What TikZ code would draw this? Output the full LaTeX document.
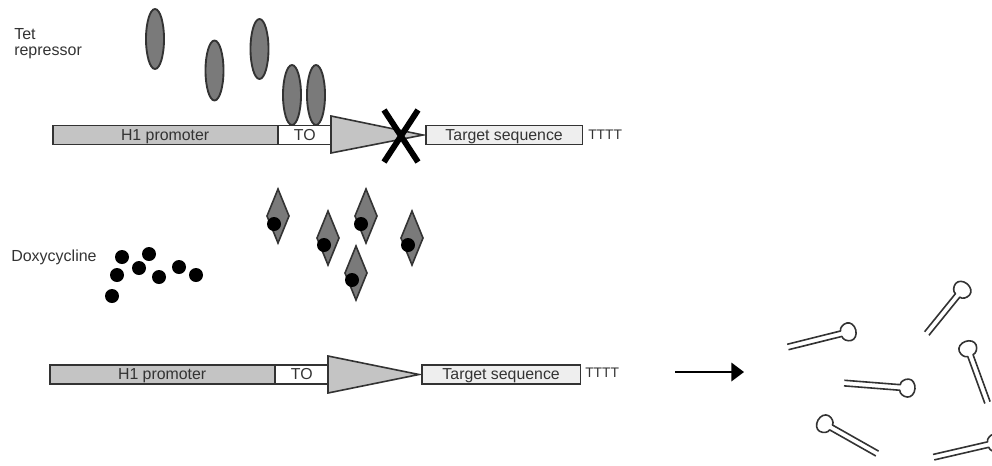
\documentclass[tikz,border=0pt]{standalone}
\usepackage{fontspec}
\setmainfont{Liberation Sans}
\definecolor{ink}{HTML}{333333}
\definecolor{promoter}{HTML}{C4C4C4}
\definecolor{target}{HTML}{EEEEEE}
\definecolor{protein}{HTML}{7A7A7A}
\tikzset{
  segment/.style={draw=ink,line width=1.2pt,minimum height=14pt,inner sep=0pt,anchor=west,text=ink,text height=8.6pt,text depth=0.5pt,font=\fontsize{11.9}{13}\selectfont},
  repressor/.style={ellipse,draw=ink,line width=1.4pt,fill=protein,minimum width=13.5pt,minimum height=45pt,inner sep=0pt},
  bound/.style={diamond,draw=ink,line width=1.2pt,fill=protein,minimum width=17pt,minimum height=41pt,inner sep=0pt},
  drug/.style={circle,fill=black,minimum size=10.5pt,inner sep=0pt},
  caption/.style={text=ink,font=\fontsize{12}{13}\selectfont,anchor=west,inner sep=0pt},
  tail/.style={text=ink,font=\fontsize{10.4}{12}\selectfont,anchor=west,inner sep=0pt},
  promoterhead/.style={draw=ink,line width=1.2pt,fill=promoter,line join=miter},
}
% A short RNA hairpin: loop at the origin, stem running along +x
\newcommand{\hairpin}[4]{%
  \draw[shift={(#1,#2)},rotate=#3,draw=ink,line width=1.2pt,line join=round]
    (#4,2.8) -- (7,2.8)
    .. controls (7,6) and (3,9) .. (-1,9)
    .. controls (-5,9) and (-8,5) .. (-8,0)
    .. controls (-8,-5) and (-5,-9) .. (-1,-9)
    .. controls (3,-9) and (7,-6) .. (7,-2.8)
    -- (#4,-2.8);
}
\usetikzlibrary{shapes.geometric,arrows.meta}
\begin{document}
\begin{tikzpicture}[x=0.75pt,y=-0.75pt]
\useasboundingbox (0,0) rectangle (992,465);

% Free and operator-bound repressor
\node[repressor] (r1) at (155,39) {};
\node[repressor] (r2) at (214.5,70.5) {};
\node[repressor] (r3) at (259.5,49) {};
\node[repressor] (r4) at (292,95) {};
\node[repressor] (r5) at (316,95) {};

% Silenced cassette
\node[segment,fill=promoter,minimum width=168.5pt] (pa) at (52,135) {H1 promoter};
\node[segment,fill=white,minimum width=40.5pt] (toa) at (277,135) {TO};
\node[segment,fill=target,minimum width=117.5pt] (ta) at (425,135) {Target sequence};
\node[tail] (ua) at (588,135) {TTTT};
\draw[promoterhead] (331,116) -- (423,135) -- (331,153) -- cycle;
\draw[line width=4.4pt,black] (384,110) -- (418,162) (418,110) -- (384,162);

% Doxycycline-bound repressor
\node[bound] (d1) at (278,216) {};
\node[bound] (d2) at (328,238) {};
\node[bound] (d3) at (366,216) {};
\node[bound] (d4) at (412,238) {};
\node[bound] (d5) at (356,273) {};
\node[drug] at (274,224) {};
\node[drug] at (324,245) {};
\node[drug] at (361,224) {};
\node[drug] at (408,245) {};
\node[drug] at (352,280) {};

% Free doxycycline
\node[drug] at (122,257) {};
\node[drug] at (149,254) {};
\node[drug] at (117,275) {};
\node[drug] at (139,268) {};
\node[drug] at (159,277) {};
\node[drug] at (179,267) {};
\node[drug] at (196,275) {};
\node[drug] at (112,296) {};

% Labels
\node[caption] (tet) at (14,34) {Tet};
\node[caption] (rep) at (14,53) {repressor};
\node[caption] (dox) at (11,257) {Doxycycline};

% Active cassette
\node[segment,fill=promoter,minimum width=168.5pt] (pb) at (49,374.5) {H1 promoter};
\node[segment,fill=white,minimum width=40.5pt] (tob) at (274,374.5) {TO};
\node[segment,fill=target,minimum width=119pt] (tb) at (421,374.5) {Target sequence};
\node[tail] (ub) at (585,373) {TTTT};
\draw[promoterhead] (328,356) -- (419,374.5) -- (328,393) -- cycle;

% Transcription arrow
\coordinate (as) at (675,372);
\coordinate (ae) at (744,372);
\draw[draw=black,line width=1.1pt,-{Triangle[length=9.5pt,width=14pt]}] (as) -- (ae);

% Expressed hairpins
\begin{scope}
\clip (0,0) rectangle (992,465);
\hairpin{848}{332}{-166}{62}
\hairpin{962}{290}{-129}{56}
\hairpin{968}{349}{-70}{57}
\hairpin{907}{388}{175.5}{63}
\hairpin{825}{424}{-29.5}{60}
\hairpin{995}{443}{-167}{63}
\end{scope}
\end{tikzpicture}
\end{document}
